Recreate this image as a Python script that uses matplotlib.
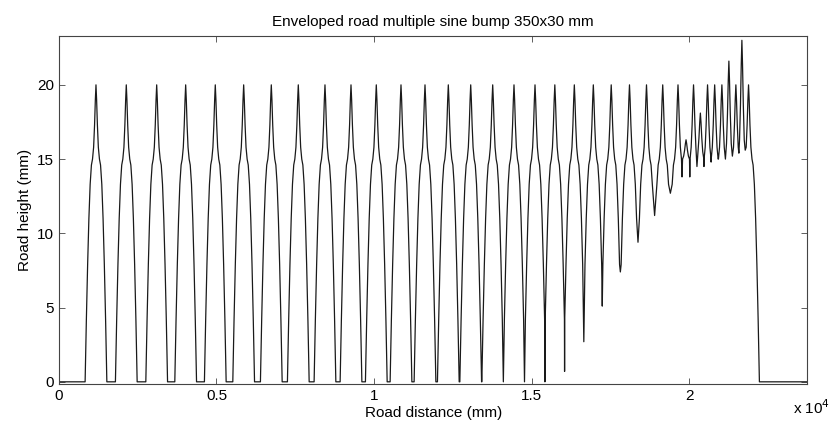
import matplotlib
matplotlib.use("Agg")
import matplotlib.pyplot as plt

plt.rcParams['font.family'] = ['Liberation Sans', 'DejaVu Sans']

# peak positions (mm) and heights (mm)
peak_x = [1175, 2137, 3102, 4022, 4962, 5863, 6740, 7597, 8444, 9270,
          10073, 10857, 11619, 12359, 13070, 13768, 14444, 15111, 15740,
          16359, 16962, 17530, 18110, 18650, 19165, 19650, 19905, 20143,
          20360, 20588, 20814, 21043, 21265, 21487, 21678, 21889]
peak_y = [20] * 26 + [16.3, 20, 18.1, 20, 20, 20, 21.6, 20, 23.0, 20]

# lowest point between one peak and the next
trough_y = [0] * 18 + [0.7, 2.7, 5.1, 7.4, 9.4, 11.2, 12.7, 13.8, 13.8,
                       14.5, 14.5, 14.8, 15.0, 15.0, 15.2, 15.4, 15.6]

# shape of one bump: distance from peak (mm) -> height (mm)
prof_off = [0, 20, 45, 75, 110, 145, 185, 225, 265, 305, 345]
prof_h = [20, 19, 17.3, 15.8, 15, 14.6, 13.3, 11.0, 7.9, 4.2, 0]

road_end = 23760


def side(c, p, half, tr, sign):
    xs, ys = [], []
    for d, h in zip(prof_off, prof_h):
        hh = h if h <= 15 else 15 + (h - 15) * (p - 15) / 5
        if d < half and hh >= tr:
            xs.append(c + sign * d)
            ys.append(hh)
    if sign < 0:
        xs, ys = xs[::-1], ys[::-1]
    return xs, ys


xs, ys = [0], [0]
n = len(peak_x)
for i in range(n):
    c, p = peak_x[i], peak_y[i]
    if i == 0:
        lh, lt = 1e9, 0
    else:
        lh, lt = (c - peak_x[i - 1]) / 2, trough_y[i - 1]
    if i == n - 1:
        rh, rt = 1e9, 0
    else:
        rh, rt = (peak_x[i + 1] - c) / 2, trough_y[i]
    a, b = side(c, p, lh, lt, -1)
    xs += a[:-1]
    ys += b[:-1]
    a, b = side(c, p, rh, rt, 1)
    xs += a
    ys += b
    if i < n - 1 and (rh <= prof_off[-1] or rt > 0):
        xs.append(c + rh)
        ys.append(rt)
xs.append(road_end)
ys.append(0)

fig = plt.figure(figsize=(8.34, 4.32), dpi=100)
ax = fig.add_axes([0.0707, 0.111, 0.8975, 0.806])
ax.plot(xs, ys, color='#1a1a1a', linewidth=0.9)

ax.set_xlim(0, road_end)
ax.set_ylim(-0.15, 23.3)
ax.set_xticks([0, 5000, 10000, 15000, 20000])
ax.set_xticklabels(['0', '0.5', '1', '1.5', '2'])
ax.set_yticks([0, 5, 10, 15, 20])
ax.tick_params(direction='in', top=True, right=True, length=4, width=0.6,
               labelsize=11, color='#444444')
for s in ax.spines.values():
    s.set_linewidth(0.8)
    s.set_color('#444444')

ax.set_title('Enveloped road multiple sine bump 350x30 mm', fontsize=11, pad=7)
ax.set_xlabel('Road distance (mm)', fontsize=11, labelpad=2)
ax.set_ylabel('Road height (mm)', fontsize=11, labelpad=4)
fig.text(0.951, 0.056, r'x 10$^4$', fontsize=11, ha='left', va='center')

fig.savefig('out.png', dpi=100)
